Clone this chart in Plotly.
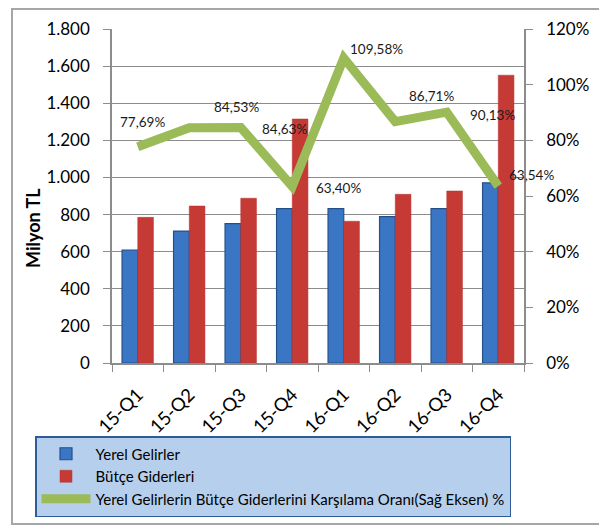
import plotly.graph_objects as go

categories = ["15-Q1", "15-Q2", "15-Q3", "15-Q4", "16-Q1", "16-Q2", "16-Q3", "16-Q4"]
yerel_gelirler = [609, 711, 751, 832, 832, 789, 832, 971]
butce_giderleri = [785, 846, 888, 1315, 764, 909, 927, 1551]
oran = [77.69, 84.53, 84.63, 63.40, 109.58, 86.71, 90.13, 63.54]
oran_labels = ["77,69%", "84,53%", "84,63%", "63,40%", "109,58%", "86,71%", "90,13%", "63,54%"]

# label pixel offsets (style only)
label_dx = [5, 47, 44, 46, 33, 36, 46, 33]
label_dy = [25, 21, -2, -1, 9, 26, -3, 11]

FONT = "Lato"
GRID = "#8c8c8c"

fig = go.Figure()
fig.add_trace(go.Bar(
    x=categories, y=yerel_gelirler, name="Yerel Gelirler",
    marker=dict(color="#3A76C4", line=dict(color="#24508A", width=1.2)),
))
fig.add_trace(go.Bar(
    x=categories, y=butce_giderleri, name="Bütçe Giderleri",
    marker=dict(color="#C63A36", line=dict(color="#B83230", width=0.5)),
))
fig.add_trace(go.Scatter(
    x=categories, y=oran, yaxis="y2", mode="lines",
    name="Yerel Gelirlerin Bütçe Giderlerini Karşılama Oranı(Sağ Eksen) %",
    line=dict(color="#9BBB59", width=9),
))

annotations = []
for c, v, t, dx, dy in zip(categories, oran, oran_labels, label_dx, label_dy):
    annotations.append(dict(
        x=c, y=v, xref="x", yref="y2", text=t, showarrow=False,
        xshift=dx, yshift=dy, font=dict(family=FONT, size=13.5, color="#1a1a1a"),
    ))

# page has an 8px body margin; figure coordinates = page coordinates - 8
OFF = 8
W, H = 607 - OFF, 526 - OFF
L, R, T, B = 112 - OFF, 83, 29 - OFF, 163
pw, ph = W - L - R, H - T - B

def px(x):
    return (x - OFF - L) / pw

def py(y):
    return (H - B - (y - OFF)) / ph

annotations.append(dict(
    x=px(33), y=py(228), xref="paper", yref="paper", text="<b>Milyon TL</b>",
    textangle=-90, showarrow=False, xanchor="center", yanchor="middle",
    font=dict(family=FONT, size=18, color="#000000"),
))

fig.update_layout(
    width=W, height=H,
    margin=dict(l=L, r=R, t=T, b=B, autoexpand=False),
    paper_bgcolor="white", plot_bgcolor="white",
    separators=",.",
    barmode="group", bargap=0.39, bargroupgap=0.0,
    font=dict(family=FONT, color="#000000"),
    xaxis=dict(
        type="category", range=[-0.5, 7.5], autorange=False,
        tickangle=-45, tickson="boundaries",
        ticks="outside", ticklen=7, tickcolor=GRID,
        showline=True, linecolor=GRID, linewidth=1.5,
        tickfont=dict(family=FONT, size=18.5), showgrid=False,
        ticklabelstandoff=12,
    ),
    yaxis=dict(
        range=[0, 1800], autorange=False, dtick=200, tickformat=",.0f",
        ticks="outside", ticklen=7, tickcolor=GRID,
        showline=True, linecolor=GRID, linewidth=1.5,
        showgrid=True, gridcolor=GRID, gridwidth=1,
        tickfont=dict(family=FONT, size=17),
        ticklabelstandoff=10,
        zeroline=False,
    ),
    yaxis2=dict(
        range=[0, 120], autorange=False, dtick=20, ticksuffix="%", overlaying="y", side="right",
        ticks="outside", ticklen=7, tickcolor=GRID,
        showline=True, linecolor=GRID, linewidth=1.5,
        showgrid=False, zeroline=False,
        tickfont=dict(family=FONT, size=17),
        ticklabelstandoff=10,
    ),
    legend=dict(
        x=px(35), y=py(436), xanchor="left", yanchor="top",
        bgcolor="#B6CFEC", bordercolor="#2F5C94", borderwidth=1.5,
        font=dict(family=FONT, size=15, color="#000000"),
        itemwidth=49, tracegroupgap=0,
    ),
    showlegend=True,
    annotations=annotations,
    shapes=[dict(
        type="rect", xref="paper", yref="paper",
        x0=px(12), x1=px(605), y0=py(524), y1=py(9),
        line=dict(color="#a6a6a6", width=2), fillcolor="rgba(0,0,0,0)", layer="below",
    )],
)

fig.write_html("out.html")
